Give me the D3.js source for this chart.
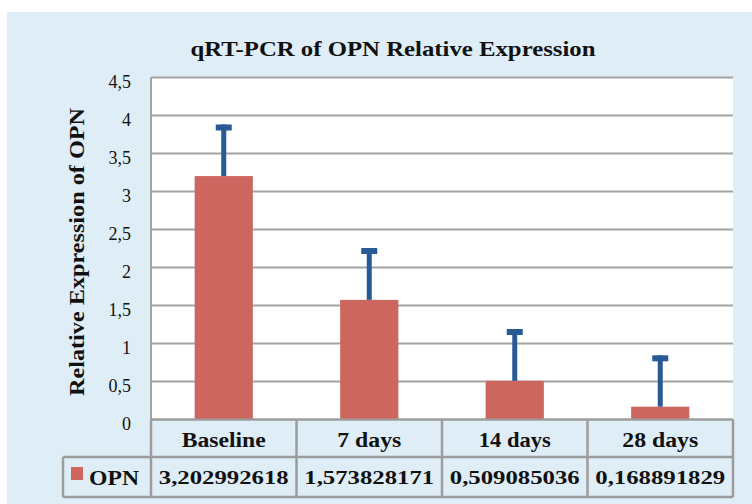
<!DOCTYPE html>
<html lang="en">
<head>
    <title>qRT-PCR of OPN</title>
    <script src="https://d3js.org/d3.v7.min.js" charset="utf-8"></script>
    <style>
        body { margin: 0; background: #fff; }
        text { font-family: "Liberation Serif", "DejaVu Serif", serif; fill: #111; }
    </style>
</head>
<body>
<script>

    var w = 752;
    var h = 504;

    // data
    var categories = ["Baseline", "7 days", "14 days", "28 days"];
    var values = [3.202992618, 1.573828171, 0.509085036, 0.168891829];
    var errors = [0.639, 0.643, 0.642, 0.636];
    var yTicks = [0, 0.5, 1, 1.5, 2, 2.5, 3, 3.5, 4, 4.5];
    var seriesName = "OPN";

    var plot = {left: 151, right: 733, top: 77.5, bottom: 419.5};

    var svg = d3.select("body")
        .append("svg")
        .attr("width", w)
        .attr("height", h);

    // light blue back panel
    svg.append("rect")
        .attr("x", 7).attr("y", 12)
        .attr("width", w - 7).attr("height", h - 12)
        .attr("fill", "#dfedf6");

    var x = d3.scaleBand()
        .domain(categories)
        .range([plot.left, plot.right])
        .paddingInner(0.6)
        .paddingOuter(0.3);

    var xCell = d3.scaleBand()
        .domain(categories)
        .range([plot.left, plot.right]);

    var y = d3.scaleLinear()
        .domain([0, 4.5])
        .range([plot.bottom, plot.top]);

    var comma = function(v) { return String(v).replace(".", ","); };

    // plot area
    svg.append("rect")
        .attr("x", plot.left).attr("y", plot.top)
        .attr("width", plot.right - plot.left).attr("height", plot.bottom - plot.top)
        .attr("fill", "#fff");

    // gridlines
    svg.append("g")
        .selectAll("line")
        .data(yTicks)
        .enter().append("line")
        .attr("x1", plot.left).attr("x2", plot.right)
        .attr("y1", function(d) { return y(d); })
        .attr("y2", function(d) { return y(d); })
        .attr("stroke", "#a3a3a3")
        .attr("stroke-width", 2);

    svg.append("line")
        .attr("x1", plot.left).attr("x2", plot.left)
        .attr("y1", plot.top).attr("y2", plot.bottom)
        .attr("stroke", "#a3a3a3").attr("stroke-width", 2);

    // y tick labels
    svg.append("g")
        .selectAll("text")
        .data(yTicks)
        .enter().append("text")
        .attr("x", 131)
        .attr("y", function(d) { return y(d) + 10; })
        .attr("text-anchor", "end")
        .style("font-size", "18px")
        .text(function(d) { return comma(d); });

    // bars
    svg.append("g")
        .selectAll("rect")
        .data(values)
        .enter().append("rect")
        .attr("x", function(d, i) { return x(categories[i]); })
        .attr("y", function(d) { return y(d); })
        .attr("width", x.bandwidth())
        .attr("height", function(d) { return y(0) - y(d); })
        .attr("fill", "#cd665e");

    // error bars (upper only)
    var err = svg.append("g");
    values.forEach(function(v, i) {
        var cx = x(categories[i]) + x.bandwidth() / 2;
        err.append("line")
            .attr("x1", cx).attr("x2", cx)
            .attr("y1", y(v)).attr("y2", y(v + errors[i]) - 3)
            .attr("stroke", "#265b93").attr("stroke-width", 5);
        err.append("line")
            .attr("x1", cx - 8).attr("x2", cx + 8)
            .attr("y1", y(v + errors[i])).attr("y2", y(v + errors[i]))
            .attr("stroke", "#265b93").attr("stroke-width", 6);
    });

    // title
    svg.append("text")
        .attr("x", 393).attr("y", 56)
        .attr("text-anchor", "middle")
        .attr("textLength", 405)
        .attr("lengthAdjust", "spacingAndGlyphs")
        .style("font-size", "22px")
        .style("font-weight", "bold")
        .text("qRT-PCR of  OPN Relative Expression");

    // y axis label
    svg.append("text")
        .attr("transform", "translate(84,252) rotate(-90)")
        .attr("text-anchor", "middle")
        .attr("textLength", 288)
        .attr("lengthAdjust", "spacingAndGlyphs")
        .style("font-size", "21px")
        .style("font-weight", "bold")
        .text("Relative Expression of  OPN");

    // data table
    var rowTop = 419.5, rowMid = 457, rowBot = 497;
    var table = svg.append("g");
    var gray = "#9c9c9c";

    table.append("line").attr("x1", plot.left).attr("x2", plot.right)
        .attr("y1", rowTop).attr("y2", rowTop).attr("stroke", gray).attr("stroke-width", 2);
    table.append("line").attr("x1", 63).attr("x2", plot.right)
        .attr("y1", rowMid).attr("y2", rowMid).attr("stroke", gray).attr("stroke-width", 2.5);
    table.append("line").attr("x1", 63).attr("x2", plot.right)
        .attr("y1", rowBot).attr("y2", rowBot).attr("stroke", gray).attr("stroke-width", 2.5);
    table.append("line").attr("x1", 63).attr("x2", 63)
        .attr("y1", rowMid).attr("y2", rowBot).attr("stroke", gray).attr("stroke-width", 2.5);

    var edges = categories.map(function(c) { return xCell(c); }).concat([plot.right]);
    table.selectAll(".vline")
        .data(edges)
        .enter().append("line")
        .attr("x1", function(d) { return d; }).attr("x2", function(d) { return d; })
        .attr("y1", rowTop).attr("y2", rowBot)
        .attr("stroke", gray).attr("stroke-width", 2.5);

    // category labels, widths
    var catWidths = [84, 64, 72, 76];
    table.selectAll(".cat")
        .data(categories)
        .enter().append("text")
        .attr("x", function(d) { return xCell(d) + xCell.bandwidth() / 2; })
        .attr("y", 447)
        .attr("text-anchor", "middle")
        .attr("textLength", function(d, i) { return catWidths[i]; })
        .attr("lengthAdjust", "spacingAndGlyphs")
        .style("font-size", "20px")
        .style("font-weight", "bold")
        .text(function(d) { return d; });

    table.selectAll(".val")
        .data(values)
        .enter().append("text")
        .attr("x", function(d, i) { return xCell(categories[i]) + xCell.bandwidth() / 2; })
        .attr("y", 484)
        .attr("text-anchor", "middle")
        .attr("textLength", 130)
        .attr("lengthAdjust", "spacingAndGlyphs")
        .style("font-size", "19px")
        .style("font-weight", "bold")
        .text(function(d) { return comma(d); });

    // legend key in table
    table.append("rect")
        .attr("x", 71).attr("y", 467)
        .attr("width", 12).attr("height", 13)
        .attr("fill", "#cd665e");
    table.append("text")
        .attr("x", 89).attr("y", 485)
        .attr("textLength", 50)
        .attr("lengthAdjust", "spacingAndGlyphs")
        .style("font-size", "21px")
        .style("font-weight", "bold")
        .text(seriesName);

</script>
</body>
</html>
